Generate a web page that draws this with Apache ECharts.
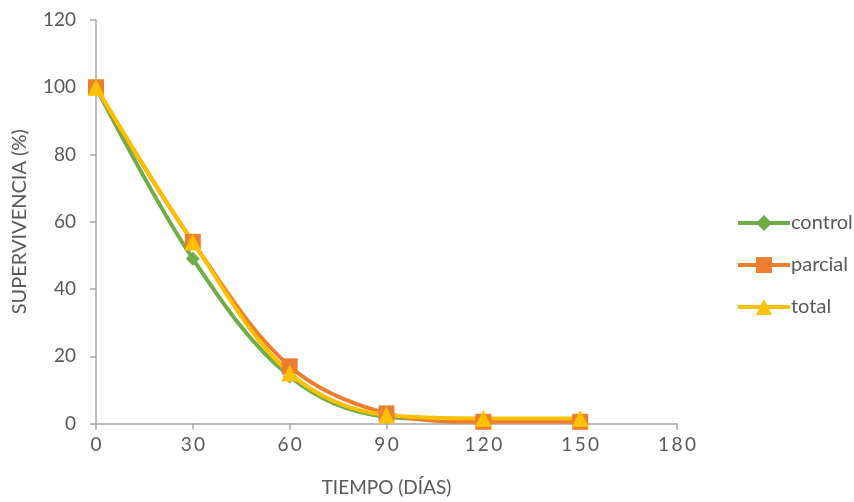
<!DOCTYPE html>
<html><head><meta charset="utf-8">
<script src="https://cdn.jsdelivr.net/npm/echarts@6/dist/echarts.min.js"></script>
<style>html,body{margin:0;padding:0;background:#fff}#c{width:854px;height:502px}</style>
</head><body><div id="c"></div>
<script>
const days = [0, 30, 60, 90, 120, 150];
const control = [100, 49, 14, 2, 1, 1];
const parcial = [100, 54, 17, 3, 0.5, 0.5];
const total = [100, 54, 15, 2.5, 1.5, 1.5];
const xTicks = [0, 30, 60, 90, 120, 150, 180];
const yTicks = [0, 20, 40, 60, 80, 100, 120];

const font = 'Lato, "Open Sans", sans-serif';
const txt = '#595959';
const axisCol = '#a6a6a6';
function pts(v){ return days.map((d,i)=>[d, v[i]]); }
function ser(name, data, color, symbol, size){
  return {name, type:'line', data: pts(data), smooth: 0.35, symbol, symbolSize: size,
    lineStyle:{color, width:4}, itemStyle:{color}, z: 2};
}
const chart = echarts.init(document.getElementById('c'), null, {renderer:'canvas'});
chart.setOption({
  animation:false,
  textStyle:{fontFamily:font},
  grid:{left:96, right:177, top:20, bottom:76, containLabel:false},
  xAxis:{type:'value', min:xTicks[0], max:xTicks[xTicks.length-1], interval:30,
    name:'TIEMPO (DÍAS)', nameLocation:'middle', nameGap:64,
    nameTextStyle:{color:txt, fontSize:19, fontFamily:font, verticalAlign:'middle'},
    axisLine:{lineStyle:{color:axisCol, width:1.5}},
    axisTick:{show:true, inside:false, length:6, lineStyle:{color:axisCol, width:1.5}},
    axisLabel:{color:txt, fontSize:19, margin:12, fontFamily:font, formatter:v=>String(v).split('').join('\u2009')},
    splitLine:{show:false}},
  yAxis:{type:'value', min:yTicks[0], max:yTicks[yTicks.length-1], interval:20,
    name:'SUPERVIVENCIA (%)', nameLocation:'middle', nameGap:76, nameRotate:90,
    nameTextStyle:{color:txt, fontSize:20, fontFamily:font, verticalAlign:'middle'},
    axisLine:{show:true, lineStyle:{color:axisCol, width:1.5}},
    axisTick:{show:true, inside:false, length:6, lineStyle:{color:axisCol, width:1.5}},
    axisLabel:{color:txt, fontSize:19, margin:20, fontFamily:font},
    splitLine:{show:false}},
  legend:{orient:'vertical', left:731, top:208, itemGap:22, itemWidth:52, itemHeight:20,
    lineStyle:{width:4},
    textStyle:{color:txt, fontSize:20, lineHeight:20, fontFamily:font, padding:[0,0,0,-4]},
    data:['control','parcial','total']},
  series:[
    ser('control', control, '#70ad47', 'diamond', 14),
    ser('parcial', parcial, '#ed7d31', 'rect', 16),
    ser('total', total, '#ffc000', 'triangle', 17)
  ]
});
</script></body></html>
